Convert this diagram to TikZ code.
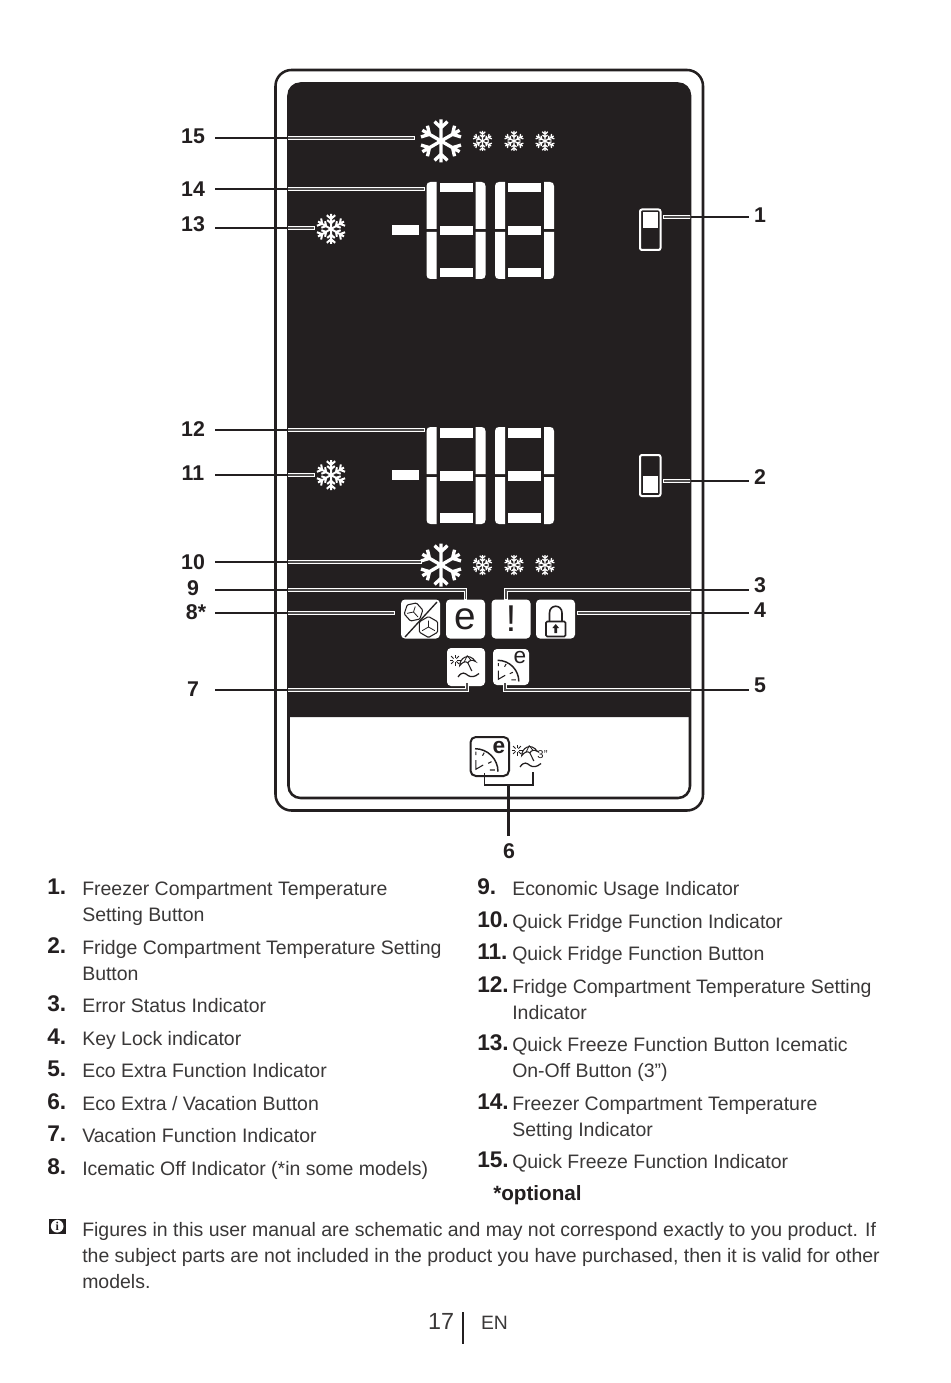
\documentclass[tikz,border=0pt]{standalone}
\usepackage{fontspec}
\setmainfont{Liberation Sans}
\newfontfamily\iconserif{Liberation Serif}
\usepackage{tikz}
\usetikzlibrary{calc,positioning}
\definecolor{paneldark}{RGB}{35,31,32}
\definecolor{bodygrey}{RGB}{58,56,56}
\definecolor{leadergrey}{RGB}{80,78,78}
\tikzset{
  frameline/.style={draw=paneldark,line width=1.9pt},
  leader/.style={paneldark,line width=1.7pt},
  leaderdark/.style={draw=white,double=leadergrey,double distance=1.2pt,line width=0.65pt,line cap=rect},
  callout/.style={font=\fontsize{16}{18}\selectfont\bfseries,text=paneldark,inner sep=0pt,minimum height=12pt},
  itemnum/.style={anchor=base west,font=\fontsize{17}{19}\selectfont\bfseries,text=paneldark,inner sep=0pt},
  itemtext/.style={anchor=base west,align=left,font=\fontsize{14.6}{19.5}\selectfont,text=bodygrey,inner sep=0pt},
  tile/.style={fill=white,rounded corners=3pt,minimum size=29.25pt,inner sep=0pt},
  iconline/.style={paneldark,line width=0.8pt},
  bigflake/.style={scale=21.5,line width=2.5pt},
  midflake/.style={scale=15,line width=1.5pt},
  tinyflake/.style={scale=10,line width=0.95pt},
  pics/snowflake/.style={code={
    \foreach \ang in {0,60,...,300}
      \draw[white,rotate=\ang] (0,0) -- (0,-1) (-0.3,-0.9) -- (0,-0.62) -- (0.3,-0.9);
  }},
  pics/finesnowflake/.style={code={
    \foreach \ang in {0,60,...,300}
      \draw[white,rotate=\ang] (0,0) -- (0,-1) (-0.28,-0.92) -- (0,-0.68) -- (0.28,-0.92)
        (-0.25,-0.6) -- (0,-0.38) -- (0.25,-0.6);
  }},
  pics/segpair/.style={code={
    \foreach \ox/\sx in {0/1,59/-1}
      \foreach \oy/\sy in {0/1,97/-1}
        \fill[white,shift={(\ox,\oy)},xscale=\sx,yscale=\sy]
          (0,47) -- (0,4) .. controls (0,1.5) and (1.5,0) .. (4,0) -- (10,0) -- (10,47) -- cycle;
    \foreach \oy in {1,44,86}
      \fill[white] (13,\oy) rectangle (46,\oy+9.5);
  }},
  pics/ecoclock/.style={code={
    \draw[iconline,line width=1.1pt] (-14.5,-7.3) .. controls (-1.8,-7.3) and (8.5,3) .. (8.5,15.7);
    \draw[iconline] (-13.7,4) -- (-13.7,13.3) -- (-6.3,9);
    \draw[iconline] (-13.7,-4.3) -- (-13.7,-1) (-5.3,-3.3) -- (-7,-0.3) (2,5.7) -- (-1.3,7.3) (0.3,14) -- (5.3,14);
  }},
  pics/parasol/.style={code={
    \foreach \ang in {0,45,...,315}
      \draw[iconline,line width=0.55pt] (-11,-7) ++(\ang:2) -- ++(\ang:3.5);
    \draw[iconline,fill=white] (-6.3,-1.3) .. controls (-6.5,-9) and (3,-15) .. (9.5,-5.5)
      .. controls (6.5,-7.5) and (3.5,-7) .. (1.8,-4.2) .. controls (-0.5,-6.5) and (-4,-4.5) .. cycle;
    \draw[iconline,line width=0.6pt] (1.3,-11.5) -- (-1.8,-5) (1.3,-11.5) -- (5,-6.5);
    \draw[iconline] (1.8,-4.2) -- (5.8,4);
    \draw[iconline,line width=0.95pt] (-8,10) .. controls (-4,4) and (-1,6) .. (2,8.5) .. controls (5,10.5) and (9,10) .. (13,6.5);
  }},
  pics/icecube/.style={code={
    \draw[iconline,rounded corners=0.8pt] (30:1) -- (90:1) -- (150:1) -- (210:1) -- (270:1) -- (330:1) -- cycle;
    \draw[iconline,line width=0.6pt] (30:0.7) -- (0,0) -- (150:0.7) (0,0) -- (270:0.6);
  }},
}

\begin{document}
\begin{tikzpicture}[x=0.75pt,y=-0.75pt]
  \path[use as bounding box] (0,0) rectangle (950,1383);
  \fill[white] (0,0) rectangle (950,1383);

  % appliance panel
  \draw[frameline,rounded corners=12pt] (275.5,70) rectangle (703,810.5);
  \draw[frameline,rounded corners=9pt] (288.5,83.5) rectangle (690,798);
  \fill[paneldark] (288,717) -- (288,95) .. controls (288,88) and (293,83) .. (300,83)
    -- (678,83) .. controls (685,83) and (690.5,88) .. (690.5,95) -- (690.5,717) -- cycle;

  % snowflakes
  \pic[bigflake] at (441,141) {snowflake};
  \pic[tinyflake] at (482.5,141) {finesnowflake};
  \pic[tinyflake] at (514,141) {finesnowflake};
  \pic[tinyflake] at (545,141) {finesnowflake};
  \pic[midflake] at (331,229) {finesnowflake};
  \pic[midflake] at (331,475) {finesnowflake};
  \pic[bigflake] at (441,565) {snowflake};
  \pic[tinyflake] at (482.5,565) {finesnowflake};
  \pic[tinyflake] at (514,565) {finesnowflake};
  \pic[tinyflake] at (545,565) {finesnowflake};

  % temperature digits
  \fill[white] (392,225) rectangle (419,235);
  \pic at (426.5,182) {segpair};
  \pic at (495,182) {segpair};
  \fill[white] (392,470) rectangle (419,480);
  \pic at (426.5,427) {segpair};
  \pic at (495,427) {segpair};

  % setting bars
  \draw[white,line width=1.5pt,rounded corners=1.5pt] (640,209.5) rectangle (660.5,250);
  \fill[white] (642.5,212) rectangle (658,228);
  \draw[white,line width=1.5pt,rounded corners=1.5pt] (640,455) rectangle (660.5,496);
  \fill[white] (642.5,476) rectangle (658,493);

  % indicator tiles
  \node[tile] (tileice) at (420.5,619) {};
  \node[tile,font=\fontsize{29}{29}\selectfont,text=paneldark] (tileeco) at (465.5,619) {e};
  \node[tile,font=\fontsize{28}{28}\selectfont,text=paneldark] (tilealert) at (511,619) {!};
  \node[tile] (tilelock) at (555.5,619) {};
  \node[tile,minimum size=28.5pt] (tilesun) at (466,667) {};
  \node[tile,minimum size=27pt] (tileclock) at (511,667) {};

  \draw[iconline,line width=1pt] (405,637) -- (437,602);
  \pic[scale=9.5,rotate=-18] at (413.5,612) {icecube};
  \pic[scale=10.5] at (428.5,627) {icecube};

  \draw[iconline,line width=1.2pt,rounded corners=1pt] (546,621.5) rectangle (565.5,636.5);
  \draw[iconline,line width=1.2pt] (549.5,621) -- (549.5,613) .. controls (549.5,604) and (562,604) .. (562,613) -- (562,621);
  \fill[paneldark] (555.7,624) -- (559,628) -- (557,628) -- (557,633) -- (554.4,633) -- (554.4,628) -- (552.4,628) -- cycle;

  \pic at (466,667) {parasol};
  \pic[scale=0.92] at (511,667) {ecoclock};
  \node[inner sep=0pt,font=\fontsize{17}{17}\selectfont,text=paneldark] (clockletter) at (520,658) {e};

  % lower strip
  \draw[frameline,line width=1.5pt,rounded corners=4pt] (470.5,737) rectangle (509,776);
  \pic at (489.5,756) {ecoclock};
  \node[inner sep=0pt,font=\fontsize{17}{17}\selectfont\bfseries,text=paneldark] (stripletter) at (499,748) {e};
  \pic at (528,757) {parasol};
  \node[inner sep=0pt,font=\fontsize{8.5}{9}\selectfont,text=paneldark] (stripthree) at (542.5,755) {3''};

  % numbers beside the panel
  \node[callout,minimum width=33pt] (n15) at (193,136) {15};
  \node[callout,minimum width=33pt] (n14) at (193,189) {14};
  \node[callout,minimum width=33pt] (n13) at (193,224) {13};
  \node[callout,minimum width=33pt] (n12) at (193,429) {12};
  \node[callout,minimum width=33pt] (n11) at (193,473) {11};
  \node[callout,minimum width=33pt] (n10) at (193,562) {10};
  \node[callout,minimum width=33pt] (n9) at (193,588) {9};
  \node[callout,minimum width=28.5pt] (n8) at (196,612) {8*};
  \node[callout,minimum width=33pt] (n7) at (193,689) {7};
  \node[callout,minimum width=16.5pt] (n1) at (760,215) {1};
  \node[callout,minimum width=16.5pt] (n2) at (760,477) {2};
  \node[callout,minimum width=16.5pt] (n3) at (760,585) {3};
  \node[callout,minimum width=16.5pt] (n4) at (760,610) {4};
  \node[callout,minimum width=16.5pt] (n5) at (760,685) {5};
  \node[callout,minimum height=22.5pt] (n6) at (509,851) {6};

  \coordinate (c15) at (413,138);
  \coordinate (c14) at (423,189);
  \coordinate (c13) at (313,228);
  \coordinate (c12) at (423,430);
  \coordinate (c11) at (313,475);
  \coordinate (c10) at (420,562);
  \coordinate (b9) at (300,590);
  \coordinate (c9) at (465.5,598);
  \coordinate (c8) at (393,613);
  \coordinate (b7) at (300,690);
  \coordinate (c7) at (467,684);
  \coordinate (c1) at (665,217);
  \coordinate (c2) at (665,481);
  \coordinate (b3) at (700,590);
  \coordinate (c3) at (506,598);
  \coordinate (c4) at (579,613);
  \coordinate (b5) at (700,690);
  \coordinate (c5) at (505,684);

  \def\leaderlist{15/east/c15,14/east/c14,13/east/c13,12/east/c12,11/east/c11,10/east/c10,
    9/east/b9,8/east/c8,7/east/b7,1/west/c1,2/west/c2,3/west/b3,4/west/c4,5/west/b5}
  \foreach \num/\side/\row in \leaderlist
    \draw[leader] (n\num.\side |- \row) -| (c\num);
  \begin{scope}
    \clip (288,83) rectangle (690,717);
    \foreach \num/\side/\row in \leaderlist
      \draw[leaderdark] (n\num.\side |- \row) -| (c\num);
  \end{scope}

  \coordinate (bracketleft) at (484.5,773);
  \coordinate (bracketright) at (533,772);
  \coordinate (bracketmid) at (508.5,785);
  \draw[leader,line width=1.2pt] (bracketleft) |- (bracketmid) -| (bracketright);
  \draw[leader,line width=2pt] (bracketmid) -- (bracketmid |- n6.north);

  % left list
  \node[itemnum] (num1) at (47,894) {1.};
  \node[itemtext] (txt1) at (82,921) {Freezer Compartment Temperature\\Setting Button};
  \node[itemnum] (num2) at (47,953) {2.};
  \node[itemtext] (txt2) at (82,980) {Fridge Compartment Temperature Setting\\Button};
  \node[itemnum] (num3) at (47,1011) {3.};
  \node[itemtext] (txt3) at (82,1012) {Error Status Indicator};
  \node[itemnum] (num4) at (47,1044) {4.};
  \node[itemtext] (txt4) at (82,1045) {Key Lock indicator};
  \node[itemnum] (num5) at (47,1076) {5.};
  \node[itemtext] (txt5) at (82,1077) {Eco Extra Function Indicator};
  \node[itemnum] (num6) at (47,1109) {6.};
  \node[itemtext] (txt6) at (82,1110) {Eco Extra / Vacation Button};
  \node[itemnum] (num7) at (47,1141) {7.};
  \node[itemtext] (txt7) at (82,1142) {Vacation Function Indicator};
  \node[itemnum] (num8) at (47,1174) {8.};
  \node[itemtext] (txt8) at (82,1175) {Icematic Off Indicator (*in some models)};

  % right list
  \node[itemnum] (num9) at (477,894) {9.};
  \node[itemtext] (txt9) at (512,895) {Economic Usage Indicator};
  \node[itemnum] (num10) at (477,927) {10.};
  \node[itemtext] (txt10) at (512,928) {Quick Fridge Function Indicator};
  \node[itemnum] (num11) at (477,959) {11.};
  \node[itemtext] (txt11) at (512,960) {Quick Fridge Function Button};
  \node[itemnum] (num12) at (477,992) {12.};
  \node[itemtext] (txt12) at (512,1019) {Fridge Compartment Temperature Setting\\Indicator};
  \node[itemnum] (num13) at (477,1050) {13.};
  \node[itemtext] (txt13) at (512,1077) {Quick Freeze Function Button Icematic\\On-Off Button (3")};
  \node[itemnum] (num14) at (477,1109) {14.};
  \node[itemtext] (txt14) at (512,1136) {Freezer Compartment Temperature\\Setting Indicator};
  \node[itemnum] (num15) at (477,1167) {15.};
  \node[itemtext] (txt15) at (512,1168) {Quick Freeze Function Indicator};
  \node[itemtext,font=\fontsize{15.5}{19.5}\selectfont\bfseries,text=paneldark] (optional) at (493,1200) {*optional};

  % note
  \fill[paneldark] (49,1218.5) rectangle (65.5,1234);
  \node[circle,fill=white,inner sep=0pt,minimum size=9.5pt,font=\iconserif\fontsize{9}{9}\selectfont\bfseries,text=paneldark] (noteicon) at (57.2,1226.2) {i};
  \node[itemtext] (notetext) at (82,1288) {Figures in this user manual are schematic and may not correspond exactly to you product. If\\the subject parts are not included in the product you have purchased, then it is valid for other\\models.};

  % page foot
  \node[anchor=base,inner sep=0pt,font=\fontsize{17.5}{20}\selectfont,text=bodygrey] (pageno) at (441,1329) {17};
  \coordinate (bartop) at (463,1312);
  \coordinate (barbottom) at (463,1344);
  \draw[leader] (bartop) -- (barbottom);
  \node[anchor=base,inner sep=0pt,font=\fontsize{14.5}{16}\selectfont,text=bodygrey] (pagelang) at (494.5,1329) {EN};
\end{tikzpicture}
\end{document}
